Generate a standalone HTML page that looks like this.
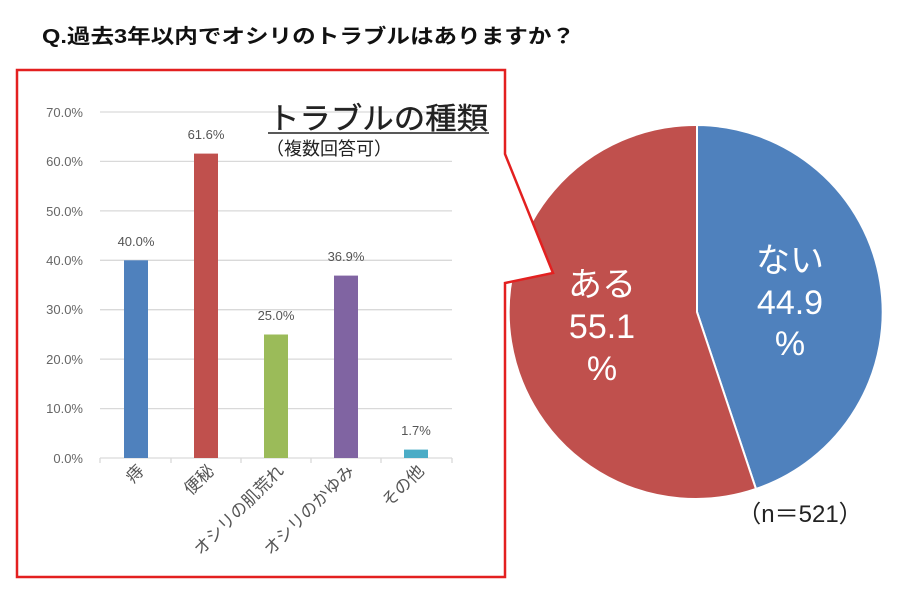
<!DOCTYPE html>
<html><head><meta charset="utf-8"><style>
body{margin:0;background:#fff;}
svg text{font-family:"Liberation Sans","Noto Sans CJK JP",sans-serif;}
</style></head><body>
<svg width="900" height="600" viewBox="0 0 900 600" xmlns="http://www.w3.org/2000/svg">
<text x="42" y="43" font-size="20" font-weight="bold" fill="#111" textLength="533" lengthAdjust="spacingAndGlyphs">Q.過去3年以内でオシリのトラブルはありますか？</text>
<!-- pie -->
<path d="M697,312 L697,125 A187,187 0 0 1 756,489 Z" fill="#4f81bd" stroke="#fff" stroke-width="2"/>
<path d="M697,312 L756,489 A187,187 0 1 1 697,125 Z" fill="#c0504d" stroke="#fff" stroke-width="2"/>
<g fill="#fff" text-anchor="middle" font-size="34">
<text x="790" y="272">ない</text>
<text x="790" y="314">44.9</text>
<text x="790" y="355">%</text>
<text x="602" y="296">ある</text>
<text x="602" y="338">55.1</text>
<text x="602" y="380">%</text>
</g>
<text x="800" y="522" font-size="24" text-anchor="middle" fill="#222">（n＝521）</text>
<!-- callout box -->
<path d="M17,70 L505,70 L505,154 L553,273 L505,283 L505,577 L17,577 Z" fill="#fff" stroke="#e32020" stroke-width="2.5"/>
<!-- grid -->
<g stroke="#d9d9d9" stroke-width="1.3">
<line x1="100" x2="452" y1="112" y2="112"/>
<line x1="100" x2="452" y1="161.4" y2="161.4"/>
<line x1="100" x2="452" y1="210.9" y2="210.9"/>
<line x1="100" x2="452" y1="260.3" y2="260.3"/>
<line x1="100" x2="452" y1="309.7" y2="309.7"/>
<line x1="100" x2="452" y1="359.1" y2="359.1"/>
<line x1="100" x2="452" y1="408.6" y2="408.6"/>
<line x1="100" x2="452" y1="458" y2="458"/>
<line x1="100" x2="100" y1="458" y2="463"/><line x1="171" x2="171" y1="458" y2="463"/><line x1="241" x2="241" y1="458" y2="463"/><line x1="311" x2="311" y1="458" y2="463"/><line x1="381" x2="381" y1="458" y2="463"/><line x1="452" x2="452" y1="458" y2="463"/>
</g>
<g font-size="13" fill="#666" text-anchor="end">
<text x="83" y="117">70.0%</text><text x="83" y="166">60.0%</text><text x="83" y="216">50.0%</text><text x="83" y="265">40.0%</text><text x="83" y="314">30.0%</text><text x="83" y="364">20.0%</text><text x="83" y="413">10.0%</text><text x="83" y="463">0.0%</text>
</g>
<rect x="124" y="260.3" width="24" height="197.7" fill="#4f81bd"/>
<rect x="194" y="153.6" width="24" height="304.4" fill="#c0504d"/>
<rect x="264" y="334.5" width="24" height="123.5" fill="#9bbb59"/>
<rect x="334" y="275.6" width="24" height="182.4" fill="#8064a2"/>
<rect x="404" y="449.6" width="24" height="8.4" fill="#4bacc6"/>
<g font-size="13" fill="#555" text-anchor="middle">
<text x="136" y="246">40.0%</text><text x="206" y="139">61.6%</text><text x="276" y="320">25.0%</text><text x="346" y="261">36.9%</text><text x="416" y="435">1.7%</text>
</g>
<g font-size="17" fill="#555" text-anchor="end">
<text transform="translate(145,472) rotate(-45)">痔</text>
<text transform="translate(215,472) rotate(-45)">便秘</text>
<text transform="translate(285,472) rotate(-45)">オシリの肌荒れ</text>
<text transform="translate(355,472) rotate(-45)">オシリのかゆみ</text>
<text transform="translate(425,472) rotate(-45)">その他</text>
</g>
<text x="268" y="129" font-size="30" fill="#222" stroke="#222" stroke-width="0.4" textLength="220" lengthAdjust="spacingAndGlyphs">トラブルの種類</text>
<line x1="268" x2="489" y1="133" y2="133" stroke="#222" stroke-width="1.5"/>
<text x="266" y="155" font-size="18" fill="#222">（複数回答可）</text>
</svg>
</body></html>
